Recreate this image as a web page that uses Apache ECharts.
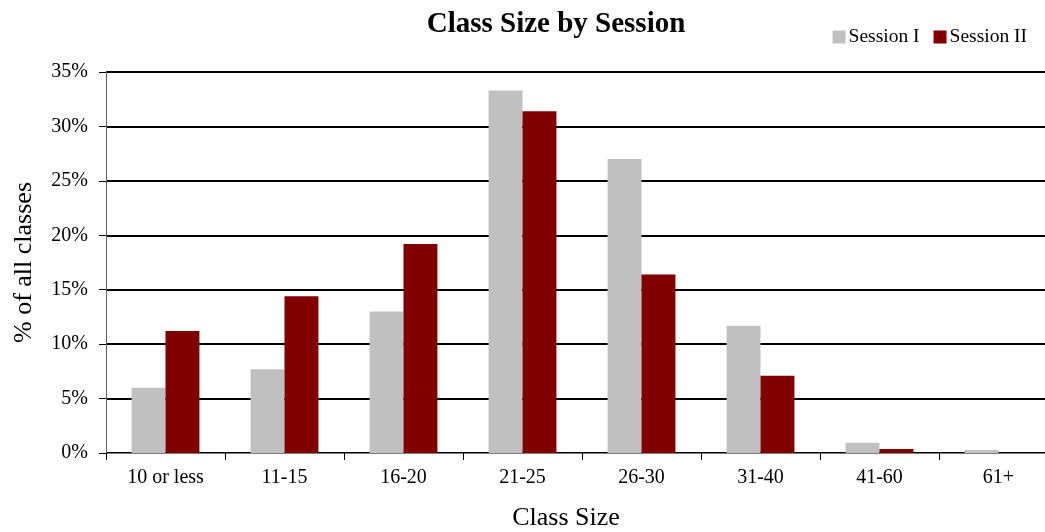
<!DOCTYPE html>
<html><head><meta charset="utf-8">
<script src="https://cdn.jsdelivr.net/npm/echarts@6/dist/echarts.min.js"></script>
<style>html,body{margin:0;padding:0;background:#fff}#c{width:1045px;height:532px}</style>
</head><body><div id="c"></div>
<script>
const categories = ['10 or less','11-15','16-20','21-25','26-30','31-40','41-60','61+'];
const session1 = [6.0, 7.7, 13.0, 33.3, 27.0, 11.7, 0.95, 0.28];
const session2 = [11.2, 14.4, 19.2, 31.4, 16.4, 7.1, 0.37, 0];
const yTicks = [0,5,10,15,20,25,30,35];

const font = '"Liberation Serif", "Times New Roman", serif';
const chart = echarts.init(document.getElementById('c'));
chart.setOption({
  animation: false,
  textStyle: {fontFamily: font, color: '#000'},
  title: {text: 'Class Size by Session', left: 551, top: 5, textAlign: 'center',
    textStyle: {fontFamily: font, fontSize: 29, fontWeight: 'bold', color: '#000'}},
  legend: {right: 13, top: 22, itemWidth: 13, itemHeight: 13, itemGap: 14, icon: 'rect',
    textStyle: {fontFamily: font, fontSize: 19.5, color: '#000', padding: [0,0,0,-2]},
    data: ['Session I','Session II']},
  grid: {left: 106, right: -13, top: 72, bottom: 79, outerBoundsMode: 'none', containLabel: false},
  xAxis: {type: 'category', data: categories, name: 'Class Size', nameLocation: 'middle', nameGap: 52,
    nameTextStyle: {fontFamily: font, fontSize: 26, color: '#000', padding: [0, 32, 0, 0]},
    axisLine: {lineStyle: {color: '#808080', width: 1}},
    axisTick: {show: true, length: 7, lineStyle: {color: '#000'}},
    axisLabel: {fontFamily: font, fontSize: 20, color: '#000', margin: 15}},
  yAxis: {type: 'value', min: 0, max: 35, interval: 5, name: '% of all classes', nameLocation: 'middle', nameGap: 69,
    nameTextStyle: {fontFamily: font, fontSize: 26, color: '#000'},
    axisLine: {show: true, lineStyle: {color: '#606060', width: 1}},
    axisTick: {show: true, length: 7, lineStyle: {color: '#000'}},
    axisLabel: {fontFamily: font, fontSize: 20, color: '#000', margin: 18,
      formatter: v => yTicks.includes(v) ? v + '%' : ''},
    splitLine: {lineStyle: {color: '#000', width: 2}}},
  series: [
    {name: 'Session I', type: 'bar', data: session1, itemStyle: {color: '#c0c0c0'}, barGap: '0%', barCategoryGap: '43%'},
    {name: 'Session II', type: 'bar', data: session2, itemStyle: {color: '#800000'}, barGap: '0%', barCategoryGap: '43%'}
  ]
});
</script></body></html>
